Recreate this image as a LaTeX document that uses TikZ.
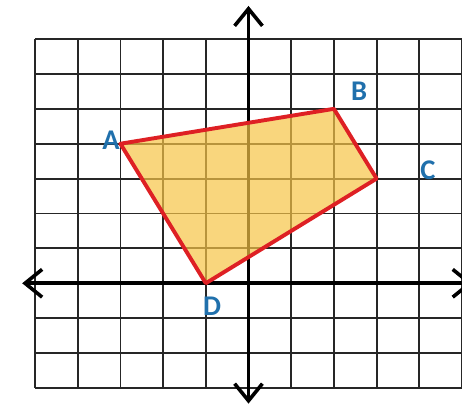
\documentclass[tikz,border=0pt]{standalone}
\usepackage{fontspec}
\newfontfamily\ptfont{Carlito}
\usetikzlibrary{arrows.meta}

\definecolor{quadred}{RGB}{222,32,36}
\definecolor{quadfill}{RGB}{246,196,70}
\definecolor{ptblue}{RGB}{32,112,172}

\begin{document}
\begin{tikzpicture}[
  x=1cm, y=0.817cm,
  gridline/.style={line width=1.2pt, black!85, xstep=1cm, ystep=0.817cm},
  axis/.style={
    line width=2.4pt,
    {Straight Barb[length=4mm,width=6.5mm]}-{Straight Barb[length=4mm,width=6.5mm]}},
  quad/.style={
    draw=quadred, line width=2.6pt, line join=round,
    fill=quadfill, fill opacity=0.7},
  ptlabel/.style={
    text=ptblue, inner sep=0pt,
    font=\ptfont\bfseries\fontsize{19}{20}\selectfont},
]

  \useasboundingbox (-5.82,-3.57) rectangle (5.0,8.12);

  % ── Grid and axes ───────────────────────────────────────────────────────
  \draw[gridline] (-5,-3) grid (5,7);
  \draw[axis] (-5.3,0) -- (5.25,0);
  \draw[axis] (0,-3.45) -- (0,7.95);

  % ── Quadrilateral ABCD ──────────────────────────────────────────────────
  \coordinate (A) at (-3,4);
  \coordinate (B) at (2,5);
  \coordinate (C) at (3,3);
  \coordinate (D) at (-1,0);
  \draw[quad] (A) -- (B) -- (C) -- (D) -- cycle;

  % ── Vertex labels ───────────────────────────────────────────────────────
  \node[ptlabel] (labA) at (-3.22,4.11) {A};
  \node[ptlabel] (labB) at (2.59,5.49)  {B};
  \node[ptlabel] (labC) at (4.2,3.25)   {C};
  \node[ptlabel] (labD) at (-0.85,-0.67) {D};

\end{tikzpicture}
\end{document}
